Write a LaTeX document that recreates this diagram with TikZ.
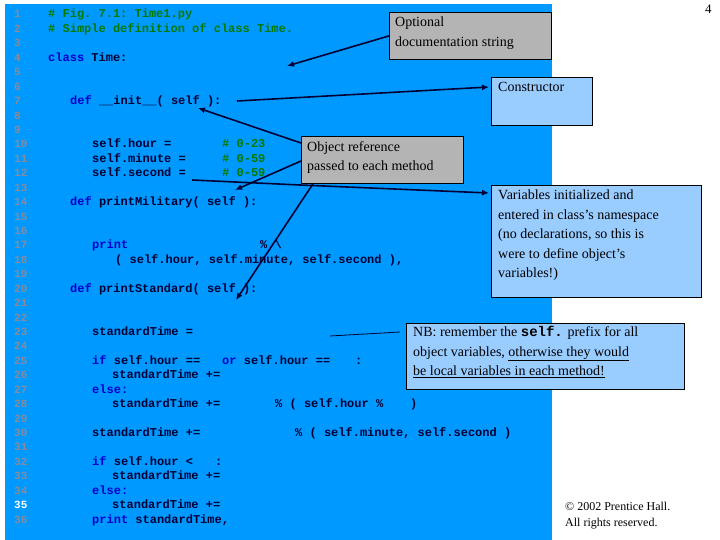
\documentclass[tikz,border=0pt]{standalone}
\usepackage{fontspec}
\setmainfont{Liberation Serif}
\setmonofont{Liberation Mono}
\usetikzlibrary{calc, positioning, arrows.meta}
\definecolor{panel}{HTML}{0099FF}
\definecolor{note}{HTML}{99CCFF}
\definecolor{grey}{HTML}{B4B4B4}
\definecolor{kw}{HTML}{0000CC}
\definecolor{cm}{HTML}{007A00}
\definecolor{ink}{HTML}{000033}
\definecolor{lnum}{HTML}{8A8A9A}
\tikzset{
  code/.style={anchor=base west, inner sep=0pt, font=\ttfamily\bfseries\fontsize{12}{14}\selectfont, text=ink},
  num/.style={anchor=base west, inner sep=0pt, font=\ttfamily\bfseries\fontsize{11}{13}\selectfont, text=lnum},
  callout/.style={draw=black, line width=0.8pt, anchor=north west, inner sep=0pt},
  say/.style={anchor=north west, inner sep=0pt, align=left, font=\fontsize{14}{19.5}\selectfont},
  pointer/.style={draw=ink, line width=1.6pt, -{Latex[length=7pt,width=6pt]}}
}
\newcommand{\kw}[1]{\textcolor{kw}{#1}}
\newcommand{\cm}[1]{\textcolor{cm}{#1}}
\begin{document}
\begin{tikzpicture}[x=1pt, y=-1pt]
    \useasboundingbox (0,0) rectangle (720,540);
    \fill[panel] (5,4) rectangle (552,540);
    % line numbers
    \foreach \n in {1,...,36} {
        \ifnum\n=35
            \node[num, text=white] at (14,{18+(\n-1)*14.43}) {\n};
        \else
            \node[num] at (14,{18+(\n-1)*14.43}) {\n};
        \fi
    }
    % code
    \node[code] at (48,{18+0*14.43}) {\cm{\# Fig. 7.1: Time1.py}};
    \node[code] at (48,{18+1*14.43}) {\cm{\# Simple definition of class Time.}};
    \node[code] at (48,{18+3*14.43}) {\kw{class} Time:};
    \node[code] (init) at (70,{18+6*14.43}) {\kw{def} \_\_init\_\_( self ):};
    \node[code] at (92,{18+9*14.43}) {self.hour =};
    \node[code] at (222,{18+9*14.43}) {\cm{\# 0-23}};
    \node[code] at (92,{18+10*14.43}) {self.minute =};
    \node[code] at (222,{18+10*14.43}) {\cm{\# 0-59}};
    \node[code] at (92,{18+11*14.43}) {self.second =};
    \node[code] at (222,{18+11*14.43}) {\cm{\# 0-59}};
    \node[code] at (70,{18+13*14.43}) {\kw{def} printMilitary( self ):};
    \node[code] at (92,{18+16*14.43}) {\kw{print}};
    \node[code] at (260,{18+16*14.43}) {\% \textbackslash};
    \node[code] at (115,{18+17*14.43}) {( self.hour, self.minute, self.second ),};
    \node[code] at (70,{18+19*14.43}) {\kw{def} printStandard( self ):};
    \node[code] at (92,{18+22*14.43}) {standardTime =};
    \node[code] at (92,{18+24*14.43}) {\kw{if} self.hour ==};
    \node[code] at (222,{18+24*14.43}) {\kw{or} self.hour ==};
    \node[code] at (355,{18+24*14.43}) {:};
    \node[code] at (112,{18+25*14.43}) {standardTime +=};
    \node[code] at (92,{18+26*14.43}) {\kw{else:}};
    \node[code] at (112,{18+27*14.43}) {standardTime +=};
    \node[code] at (275,{18+27*14.43}) {\% ( self.hour \%};
    \node[code] at (410,{18+27*14.43}) {)};
    \node[code] at (92,{18+29*14.43}) {standardTime +=};
    \node[code] at (295,{18+29*14.43}) {\% ( self.minute, self.second )};
    \node[code] at (92,{18+31*14.43}) {\kw{if} self.hour <};
    \node[code] at (215,{18+31*14.43}) {:};
    \node[code] at (112,{18+32*14.43}) {standardTime +=};
    \node[code] at (92,{18+33*14.43}) {\kw{else:}};
    \node[code] at (112,{18+34*14.43}) {standardTime +=};
    \node[code] at (92,{18+35*14.43}) {\kw{print} standardTime,};
    % callouts
    \node[callout, fill=grey, minimum width=162pt, minimum height=47pt] (docbox) at (389,12) {};
    \node[say] at ($(docbox.north west)+(6,5)$) {Optional\\documentation string};
    \node[callout, fill=note, minimum width=101pt, minimum height=48pt] (ctorbox) at (491,77) {};
    \node[say] at ($(ctorbox.north west)+(7,5)$) {Constructor};
    \node[callout, fill=grey, minimum width=162pt, minimum height=47pt] (refbox) at (301,136) {};
    \node[say] at ($(refbox.north west)+(6,5)$) {Object reference\\passed to each method};
    \node[callout, fill=note, minimum width=210pt, minimum height=112pt] (varbox) at (491,185) {};
    \node[say] at ($(varbox.north west)+(7,5)$) {Variables initialized and\\entered in class’s namespace\\(no declarations, so this is\\were to define object’s\\variables!)};
    \node[callout, fill=note, minimum width=278pt, minimum height=66pt] (nbbox) at (406,323) {};
    \node[say] at ($(nbbox.north west)+(7,3)$) {NB: remember the \texttt{\bfseries self.} prefix for all\\object variables, \underline{otherwise they would}\\\underline{be local variables in each method!}};
    % pointers
    \coordinate (docend) at (287,66);
    \coordinate (initend) at (237,101);
    \coordinate (selfa) at (198,108);
    \coordinate (selfb) at (235,190);
    \coordinate (selfc) at (236,300);
    \coordinate (varstart) at (192,180);
    \coordinate (nbstart) at (330,336);
    \draw[pointer] (docbox.west) -- (docend);
    \draw[pointer] (initend) -- ($(ctorbox.north west)+(-2,10)$);
    \draw[pointer] ($(refbox.north west)+(0,7)$) -- (selfa);
    \draw[pointer] ($(refbox.north west)+(0,25)$) -- (selfb);
    \draw[pointer] ($(refbox.south west)+(12,0)$) -- (selfc);
    \draw[pointer] (varstart) -- (300,185) -- ($(varbox.north west)+(-2,8)$);
    \draw[ink, line width=0.8pt] (nbstart) -- ($(nbbox.north west)+(-6,9)$);
    % page decorations
    \node[say, font=\fontsize{13}{15}\selectfont] (page) at (705,5) {4};
    \node[say, font=\fontsize{12}{16}\selectfont] (copy) at (565,502) {© 2002 Prentice Hall.\\All rights reserved.};
\end{tikzpicture}
\end{document}
